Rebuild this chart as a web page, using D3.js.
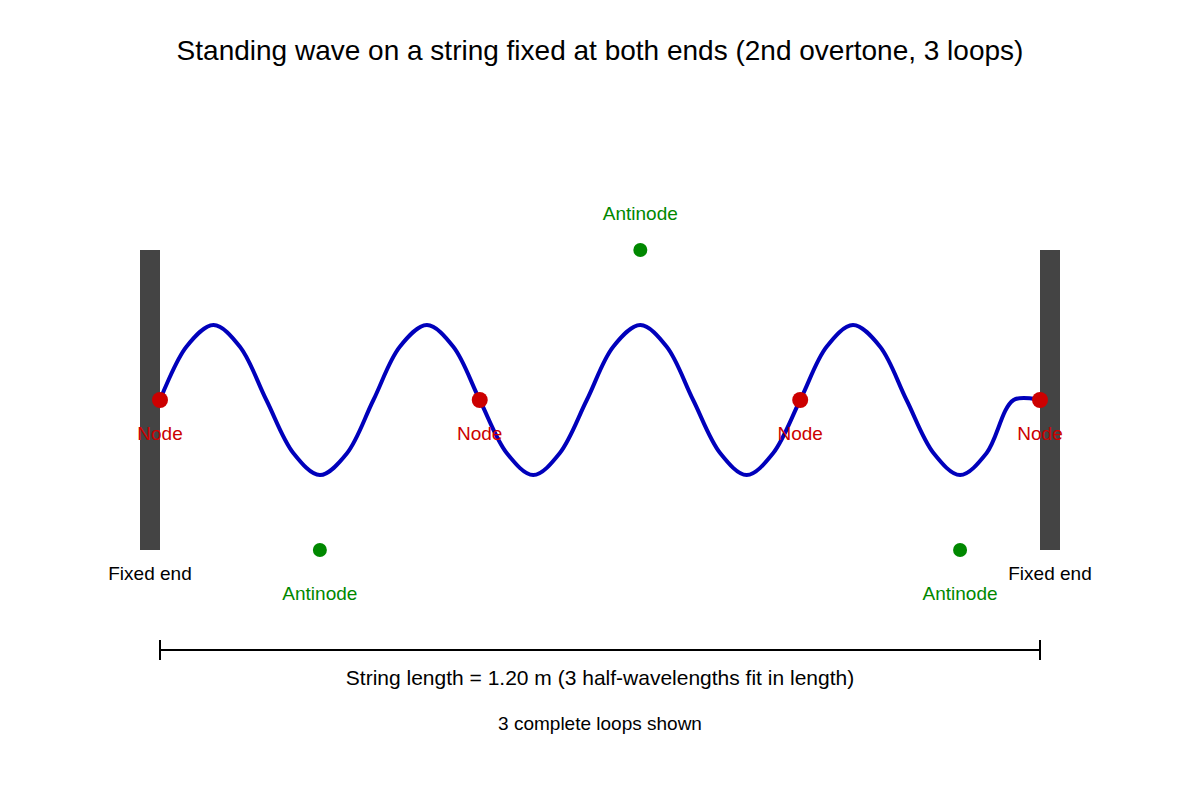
<!DOCTYPE html>
<html><head><meta charset="utf-8">
<script src="https://cdn.jsdelivr.net/npm/d3@7"></script>
<style>body{margin:0;background:#fff}svg{font-family:"Liberation Sans",Arial,sans-serif}</style>
</head><body><svg id="c" width="1200" height="800"></svg>
<script>
const title = "Standing wave on a string fixed at both ends (2nd overtone, 3 loops)";
const waveX = [0,.036,.073,.109,.145,.182,.218,.255,.291,.327,.364,.400,.436,.473,.509,.545,.582,.618,.655,.691,.727,.764,.800,.836,.873,.909,.945,.982,1.018,1.055,1.091,1.127,1.164,1.2];
const waveY = [0,.71,1,.71,0,-.71,-1,-.71,0,.71,1,.71,0,-.71,-1,-.71,0,.71,1,.71,0,-.71,-1,-.71,0,.71,1,.71,0,-.71,-1,-.71,0,0];
const nodeX = [0,.436,.873,1.2];
const antiX = [.218,.655,1.091];
const antiY = [-2,2,-2];
const wallX = [0,1.2];
const svg = d3.select("#c");
const x = d3.scaleLinear().domain([0,1.2]).range([160,1040]);
const y = d3.scaleLinear().domain([-1,1]).range([475,325]);
svg.append("text").attr("x",600).attr("y",60).attr("text-anchor","middle").attr("font-size",28).text(title);
wallX.forEach(w=>{
  svg.append("rect").attr("x",w===0?x(w)-20:x(w)).attr("y",y(2)).attr("width",20).attr("height",y(-2)-y(2)).attr("fill","#444");
  svg.append("text").attr("x",x(w)-10+(w===0?0:20)).attr("y",580).attr("text-anchor","middle").attr("font-size",19).text("Fixed end");
});
const pts = waveX.map((d,i)=>[x(d),y(waveY[i])]);
svg.append("path").attr("d",d3.line().curve(d3.curveCatmullRom)(pts)).attr("fill","none").attr("stroke","#0000bb").attr("stroke-width",4);
nodeX.forEach(n=>{
  svg.append("circle").attr("cx",x(n)).attr("cy",y(0)).attr("r",8).attr("fill","#cc0000");
  svg.append("text").attr("x",x(n)).attr("y",y(0)+40).attr("text-anchor","middle").attr("font-size",19).attr("fill","#cc0000").text("Node");
});
antiX.forEach((a,i)=>{
  svg.append("circle").attr("cx",x(a)).attr("cy",y(antiY[i])).attr("r",7).attr("fill","#008800");
  svg.append("text").attr("x",x(a)).attr("y",antiY[i]>0?y(antiY[i])-30:y(antiY[i])+50).attr("text-anchor","middle").attr("font-size",19).attr("fill","#008800").text("Antinode");
});
const g = svg.append("g").attr("stroke","#000").attr("stroke-width",2);
g.append("line").attr("x1",x(0)).attr("x2",x(1.2)).attr("y1",650).attr("y2",650);
wallX.forEach(w=>g.append("line").attr("x1",x(w)).attr("x2",x(w)).attr("y1",640).attr("y2",660));
svg.append("text").attr("x",600).attr("y",685).attr("text-anchor","middle").attr("font-size",21).text("String length = 1.20 m (3 half-wavelengths fit in length)");
svg.append("text").attr("x",600).attr("y",730).attr("text-anchor","middle").attr("font-size",19).text("3 complete loops shown");
</script></body></html>
